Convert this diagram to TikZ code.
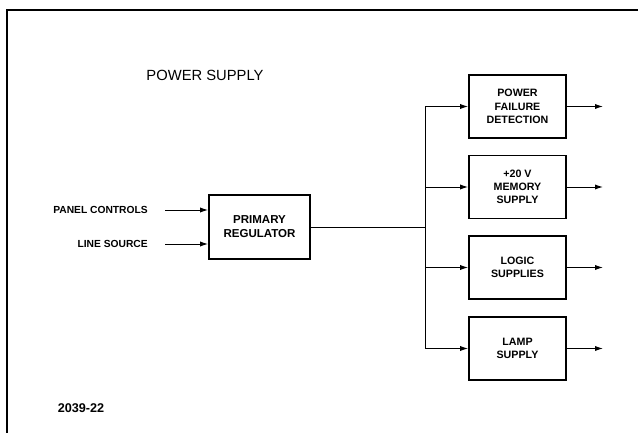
\documentclass[tikz,border=0pt]{standalone}
\usepackage{fontspec}
\setmainfont{Liberation Sans}
\usepackage{tikz}
\usetikzlibrary{
  arrows.meta,
  positioning,
  calc
}

\begin{document}
\begin{tikzpicture}[
  blk/.style={draw=black, line width=1.3pt, minimum width=2.425cm,
              minimum height=1.575cm, inner sep=0pt, align=center,
              font=\fontsize{7.6}{9.4}\selectfont\bfseries},
  regbox/.style={blk, minimum width=2.525cm, minimum height=1.6cm,
                 font=\fontsize{8.2}{10}\selectfont\bfseries},
  lbl/.style={font=\fontsize{7.3}{9}\selectfont\bfseries, text=black, inner sep=0pt},
  wire/.style={line width=0.7pt},
  arr/.style={wire, -{Latex[length=2mm,width=1.3mm]}}
]
\useasboundingbox (0,0) rectangle (15.95,10.825);

% frame
\draw[line width=1.6pt] (0.175,0) -- (0.175,10.575) -- (15.95,10.575);

% titles
\node[font=\fontsize{10.5}{12}\selectfont] (title) at (5.125,8.95) {POWER SUPPLY};
\node[font=\small\bfseries] (fig) at (2.025,0.625) {2039-22};

% main regulator
\node[regbox] (reg) at (6.4875,5.15) {PRIMARY\\REGULATOR};

% inputs
\coordinate (pc) at (4.125,5.575);
\coordinate (ls) at (4.125,4.725);
\node[lbl, anchor=east] (pclbl) at (3.7,5.575) {PANEL CONTROLS};
\node[lbl, anchor=east] (lslbl) at (3.7,4.725) {LINE SOURCE};
\draw[arr] (pc) -- (reg.west |- pc);
\draw[arr] (ls) -- (reg.west |- ls);

% supply blocks
\node[blk] (pfd) at (12.9375,8.1625) {POWER\\FAILURE\\DETECTION};
\node[blk] (mem) at (12.9375,6.15) {+20 V\\MEMORY\\SUPPLY};
\node[blk] (logic) at (12.9375,4.1375) {LOGIC\\SUPPLIES};
\node[blk] (lamp) at (12.9375,2.1125) {LAMP\\SUPPLY};

% distribution bus
\coordinate (bus) at (10.625,5.15);
\draw[wire] (reg.east) -- (bus);
\draw[wire] (bus |- pfd) -- (bus |- lamp);
\foreach \b in {pfd, mem, logic, lamp}{
  \draw[arr] (bus |- \b) -- (\b.west);
  \coordinate (\b out) at (15.075,0 |- \b);
  \draw[arr] (\b.east) -- (\b out);
}

\end{tikzpicture}
\end{document}
